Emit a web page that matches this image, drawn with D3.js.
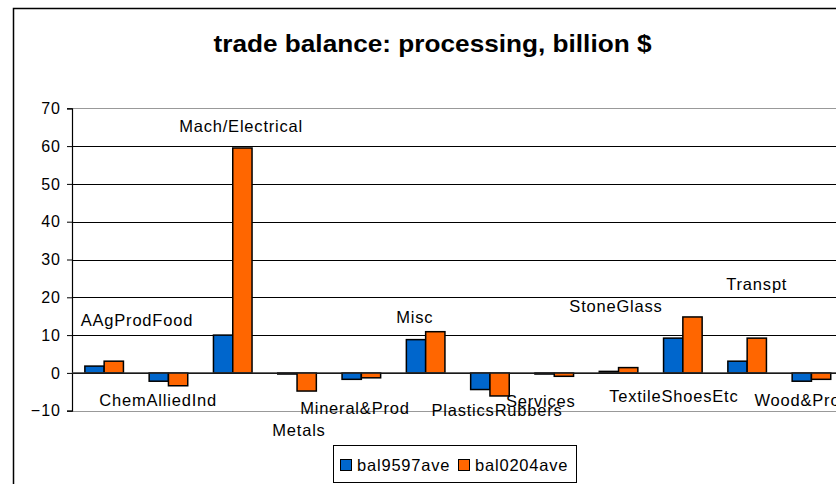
<!DOCTYPE html>
<html><head><meta charset="utf-8">
<script src="https://cdn.jsdelivr.net/npm/d3@7"></script>
<style>
body{margin:0;background:#fff;}
text{font-family:"Liberation Sans",Arial,sans-serif;}
</style></head>
<body><svg id="c" width="836" height="484"></svg>
<script>
const categories = ["AAgProdFood","ChemAlliedInd","Mach/Electrical","Metals","Mineral&Prod","Misc","PlasticsRubbers","Services","StoneGlass","TextileShoesEtc","Transpt","Wood&Prod"];
const seriesNames = ["bal9597ave","bal0204ave"];
const bal9597ave = [1.8,-2.2,10.0,-0.3,-1.7,8.8,-4.4,-0.3,0.4,9.2,3.1,-2.2];
const bal0204ave = [3.1,-3.4,59.5,-4.8,-1.3,10.9,-6.1,-0.9,1.4,14.8,9.2,-1.7];
// category label anchors (hidden label series): x in category units, y in value units
const labelAtX = [1.01,1.34,2.63,3.53,4.40,5.33,6.61,7.29,8.46,9.36,10.65,11.36];
const labelAtY = [13.9,-7.2,65.3,-15.2,-9.3,14.7,-9.9,-7.4,17.6,-6.1,23.5,-7.2];
const yTicks = [-10,0,10,20,30,40,50,60,70];
const colors = ["#0066CC","#FF6600"];
const title = "trade balance: processing, billion $";

const svg = d3.select("#c");
// chart area border
svg.append("rect").attr("x",13.5).attr("y",8.5).attr("width",900).attr("height",600)
  .attr("fill","#fff").attr("stroke","#000").attr("stroke-width",1.5);

const L=72, R=72+12*64.3, T=108.3, B=410.7;
const x = d3.scaleBand().domain(categories).range([L,R]).paddingInner(0.4).paddingOuter(0.2);
const xs = d3.scaleBand().domain(seriesNames).range([0,x.bandwidth()]);
const xi = d3.scaleLinear().domain([0,categories.length]).range([L,R]);
const y = d3.scaleLinear().domain([-10,70]).range([B,T]);

// gridlines
svg.append("g").selectAll("line").data(yTicks).join("line")
  .attr("x1",L).attr("x2",R).attr("y1",d=>Math.round(y(d))+0.5).attr("y2",d=>Math.round(y(d))+0.5)
  .attr("stroke",d=>(d===70||d===-10)?"#999":"#000").attr("stroke-width",1.2);

// y axis
const ya = svg.append("g").attr("transform",`translate(${L},0)`)
  .call(d3.axisLeft(y).tickValues(yTicks).tickSize(5).tickPadding(6).tickFormat(d3.format("d")));
ya.select(".domain").attr("stroke","#000").attr("stroke-width",1.2);
ya.selectAll(".tick line").attr("stroke","#000");
ya.selectAll(".tick text").attr("font-size",16).attr("letter-spacing","1px")
  .attr("font-family","Liberation Sans, Arial, sans-serif").attr("fill","#000");

// bars
const data = categories.map((c,i)=>({c, v:[bal9597ave[i],bal0204ave[i]]}));
const g = svg.append("g").selectAll("g").data(data).join("g").attr("transform",d=>`translate(${x(d.c)},0)`);
g.selectAll("rect").data(d=>d.v.map((v,j)=>({v,s:seriesNames[j],j}))).join("rect")
  .attr("x",d=>xs(d.s)).attr("width",xs.bandwidth())
  .attr("y",d=>y(Math.max(0,d.v))).attr("height",d=>Math.abs(y(d.v)-y(0)))
  .attr("fill",d=>colors[d.j]).attr("stroke","#000").attr("stroke-width",1.5);

// zero axis line
svg.append("line").attr("x1",L).attr("x2",R).attr("y1",y(0)).attr("y2",y(0)).attr("stroke","#333").attr("stroke-width",1.2);

// category labels
svg.append("g").selectAll("text").data(categories).join("text")
  .attr("x",(d,i)=>xi(labelAtX[i])).attr("y",(d,i)=>y(labelAtY[i]))
  .attr("text-anchor","middle").attr("dominant-baseline","central")
  .attr("font-size",16.5).attr("letter-spacing","0.8px").attr("fill","#000").text(d=>d);

// title
svg.append("text").attr("x",432.5).attr("y",52).attr("text-anchor","middle")
  .attr("font-size",24).attr("font-weight","bold").attr("fill","#000")
  .attr("textLength",438).attr("lengthAdjust","spacingAndGlyphs").text(title);

// legend
const lg = svg.append("g");
lg.append("rect").attr("x",333.5).attr("y",445.5).attr("width",243).attr("height",37).attr("fill","#fff").attr("stroke","#000");
const lx = [340,458];
seriesNames.forEach((s,i)=>{
  lg.append("rect").attr("x",lx[i]+0.5).attr("y",459.5).attr("width",11).attr("height",11).attr("fill",colors[i]).attr("stroke","#000");
  lg.append("text").attr("x",lx[i]+17).attr("y",465).attr("dominant-baseline","central")
    .attr("font-size",16.5).attr("letter-spacing","0.8px").attr("fill","#000").text(s);
});
</script></body></html>
